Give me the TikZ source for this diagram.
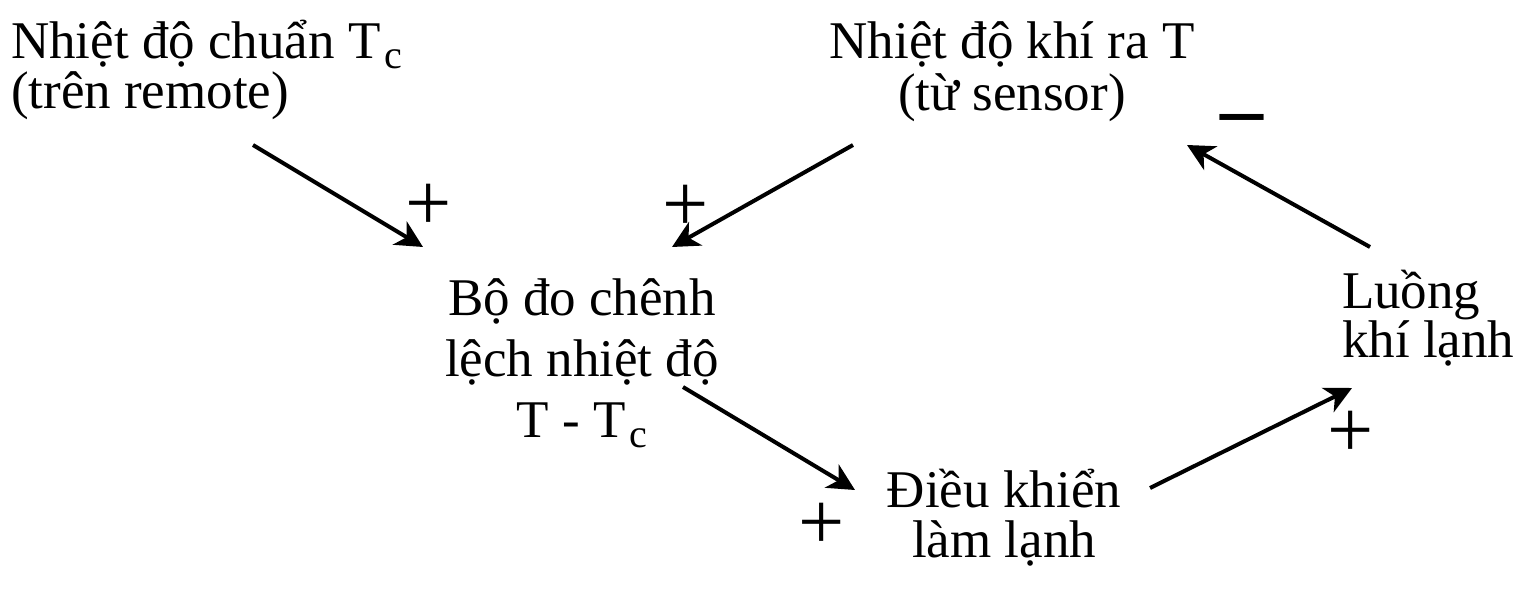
\documentclass[tikz,border=0pt]{standalone}
\usepackage{fontspec}
\setmainfont{Liberation Serif}
\usetikzlibrary{arrows.meta}
\newcommand{\subc}{\raisebox{-0.2em}{\fontsize{40}{40}\selectfont c}}
\tikzset{
  lbl/.style={inner sep=0pt, outer sep=0pt},
  arr/.style={line width=4pt, -{Stealth[length=27pt,width=27pt,inset=8pt]}},
  sign/.style={inner sep=0pt, font=\fontsize{82}{82}\selectfont},
  minsign/.style={inner sep=0pt, font=\fontsize{86}{86}\selectfont\bfseries},
}
\begin{document}
\begin{tikzpicture}[x=1pt,y=-1pt]
\useasboundingbox (0,0) rectangle (1515,589);
% text blocks (anchor = baseline of last line)
\node[lbl, anchor=base west, align=left, font=\fontsize{53}{50}\selectfont] (tl) at (11,108)
  {Nhiệt độ chuẩn T\kern0.08em\subc\\(trên remote)};
\node[lbl, anchor=base, align=center, font=\fontsize{53}{52}\selectfont] (tr) at (1012,110)
  {Nhiệt độ khí ra T\\(từ sensor)};
\node[lbl, anchor=base, align=center, font=\fontsize{53}{61}\selectfont] (mid) at (582,437)
  {Bộ đo chênh\\lệch nhiệt độ\\T - T\kern0.08em\subc};
\node[lbl, anchor=base, align=center, font=\fontsize{53}{50}\selectfont] (bot) at (1004,557)
  {Điều khiển\\làm lạnh};
\node[lbl, anchor=base west, align=left, font=\fontsize{53}{49}\selectfont] (rt) at (1342,357)
  {Luồng\\khí lạnh};
% connector end points
\coordinate (tlout) at (253,145);
\coordinate (midin1) at (423,247);
\coordinate (trout) at (853,145);
\coordinate (midin2) at (672,247);
\coordinate (midout) at (683,387);
\coordinate (botin) at (855,490);
\coordinate (botout) at (1150,488);
\coordinate (rtin) at (1352,388);
\coordinate (rtout) at (1370,247);
\coordinate (trin) at (1187,145);
% connectors
\draw[arr] (tlout) -- (midin1);
\draw[arr] (trout) -- (midin2);
\draw[arr] (midout) -- (botin);
\draw[arr] (botout) -- (rtin);
\draw[arr] (rtout) -- (trin);
% signs
\node[sign] (p1) at (429,207) {+};
\node[sign] (p2) at (686,208) {+};
\node[sign] (p3) at (822,526) {+};
\node[sign] (p4) at (1351,434) {+};
\node[minsign] (m1) at (1242,126) {–};
\end{tikzpicture}
\end{document}
